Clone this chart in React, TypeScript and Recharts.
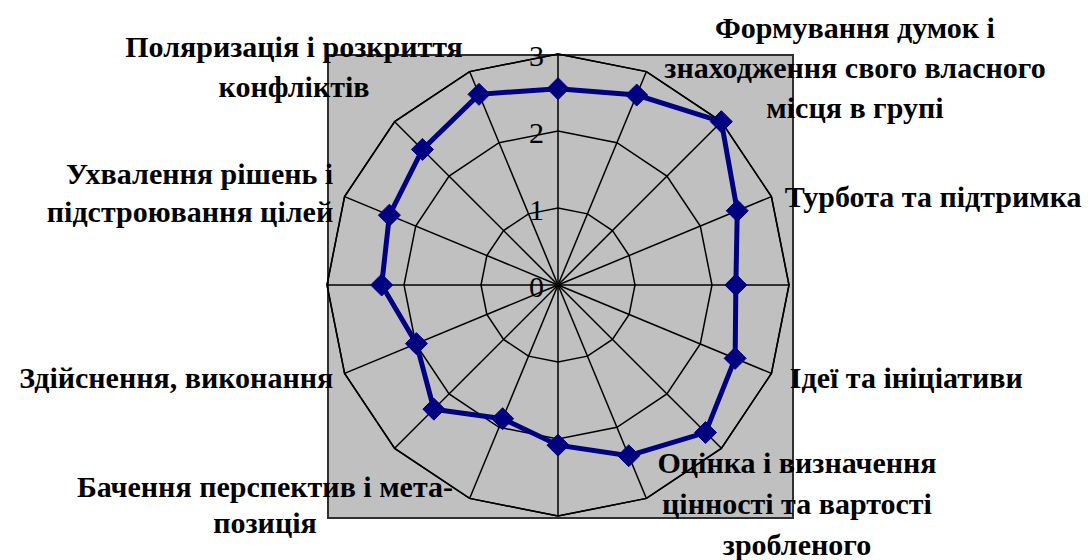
import { RadarChart, Radar, PolarGrid, PolarAngleAxis, PolarRadiusAxis } from 'recharts';

// 16 spokes, clockwise from the top; unlabelled spokes have empty names
const CATEGORIES = [
  '',
  '',
  'Формування думок і\nзнаходження свого власного\nмісця в групі',
  'Турбота та підтримка',
  '',
  'Ідеї та ініціативи',
  'Оцінка і визначення\nцінності та вартості\nзробленого',
  '',
  '',
  '',
  'Бачення перспектив і мета-\nпозиція',
  'Здійснення, виконання',
  '',
  'Ухвалення рішень і\nпідстроювання цілей',
  'Поляризація і розкриття\nконфліктів',
  '',
];
const VALUES = [2.55, 2.67, 3.0, 2.52, 2.31, 2.49, 2.71, 2.4, 2.08, 1.88, 2.28, 1.99, 2.29, 2.37, 2.49, 2.68];
const RADIUS_TICKS = [0, 1, 2, 3];

// spoke ids keep blank categories apart
const data = CATEGORIES.map((name, i) => ({ spoke: `s${i}`, name, value: VALUES[i] }));

const FONT = '"Liberation Serif", "Times New Roman", serif';
const LABEL_SIZE = 30;

// where each category label sits relative to its spoke end
const LABEL_LAYOUT: Record<number, { anchor: 'start' | 'middle' | 'end'; dx: number; dy: number; lh: number }> = {
  2: { anchor: 'middle', dx: 128, dy: -88, lh: 40 },
  3: { anchor: 'start', dx: 6, dy: 4, lh: 38 },
  5: { anchor: 'start', dx: 11, dy: 2, lh: 38 },
  6: { anchor: 'middle', dx: 70, dy: 9, lh: 41 },
  10: { anchor: 'middle', dx: -124, dy: 33, lh: 36 },
  11: { anchor: 'end', dx: -4, dy: 2, lh: 38 },
  13: { anchor: 'end', dx: -4, dy: -19, lh: 38 },
  14: { anchor: 'middle', dx: -95, dy: -69, lh: 40 },
};

function AngleTick(props: any) {
  const { x, y, payload } = props;
  const idx = payload.index;
  const text: string = CATEGORIES[idx] || '';
  const lay = LABEL_LAYOUT[idx];
  if (!text || !lay) return <g />;
  const lines = text.split('\n');
  return (
    <g>
      {lines.map((line, i) => (
        <text
          key={i}
          x={x + lay.dx}
          y={y + lay.dy + i * lay.lh + LABEL_SIZE * 0.33}
          textAnchor={lay.anchor}
          fontFamily={FONT}
          fontWeight="bold"
          fontSize={LABEL_SIZE}
          fill="#000"
        >
          {line}
        </text>
      ))}
    </g>
  );
}

function RadiusTick(props: any) {
  const { x, y, payload } = props;
  return (
    <text x={x - 14} y={y + 2 + 30 * 0.33} textAnchor="end" fontFamily={FONT} fontSize={30} fill="#000">
      {payload.value}
    </text>
  );
}

function Diamond(props: any) {
  const { cx, cy, index } = props;
  const s = 11;
  return (
    <path
      key={`d-${index}`}
      d={`M${cx},${cy - s} L${cx + s},${cy} L${cx},${cy + s} L${cx - s},${cy} Z`}
      fill="#000080"
      stroke="#000080"
      strokeWidth={1}
    />
  );
}

export default function App() {
  return (
    <div style={{ position: 'absolute', left: 0, top: 0, width: 1088, height: 560, background: '#fff' }}>
      <div
        style={{
          position: 'absolute',
          left: 327,
          top: 54,
          width: 463,
          height: 461,
          background: '#c0c0c0',
          border: '2px solid #303030',
        }}
      />
      <div style={{ position: 'absolute', left: 0, top: 0 }}>
        <RadarChart width={1088} height={560} data={data} cx={558} cy={285} outerRadius={231} margin={{ top: 0, right: 0, bottom: 0, left: 0 }}>
          <PolarGrid gridType="polygon" stroke="#000" strokeWidth={1.5} />
          <PolarAngleAxis dataKey="spoke" tick={AngleTick} tickLine={false} axisLine={{ stroke: '#000', strokeWidth: 1.5 }} />
          <PolarRadiusAxis angle={90} domain={[0, 3]} ticks={RADIUS_TICKS} tickCount={4} axisLine={false} tick={RadiusTick} />
          <Radar
            dataKey="value"
            stroke="#000080"
            strokeWidth={5}
            fill="none"
            fillOpacity={0}
            dot={Diamond}
            isAnimationActive={false}
          />
        </RadarChart>
      </div>
    </div>
  );
}
